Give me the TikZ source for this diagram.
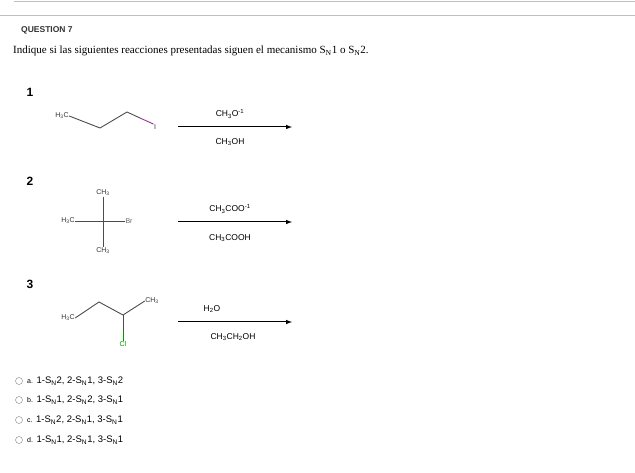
\documentclass[tikz,border=0pt]{standalone}
\usepackage{fontspec}
\setmainfont{Liberation Serif}
\setsansfont{Liberation Sans}
\begin{document}
\begin{tikzpicture}[x=1pt,y=-1pt,
  lbl/.style={font=\sffamily\fontsize{8.5}{9}\selectfont,inner sep=0.5pt},
  small/.style={font=\sffamily\fontsize{7}{8}\selectfont,inner sep=0.3pt,text=black!80},
  bond/.style={line width=0.9pt,black!70},
  rxn/.style={line width=1pt,-latex},
  num/.style={font=\sffamily\bfseries\fontsize{12}{13}\selectfont},
  opt/.style={font=\sffamily\fontsize{9.5}{11}\selectfont,anchor=west,inner sep=0pt},
  radio/.style={circle,draw=black!50,minimum size=7pt,inner sep=0pt}]
\useasboundingbox (0,0) rectangle (635,473);
\draw[black!25,line width=0.8pt] (14,1.5) -- (635,1.5);
\draw[black!25,line width=0.8pt] (0,15) -- (635,15);
\node[anchor=west,font=\sffamily\bfseries\fontsize{8.5}{9}\selectfont,text=black!80,inner sep=0pt] (q) at (21,30) {QUESTION 7};
\node[anchor=west,font=\fontsize{11}{12}\selectfont,inner sep=0pt] (stmt) at (13,51) {Indique si las siguientes reacciones presentadas siguen el mecanismo S\textsubscript{N}1 o S\textsubscript{N}2.};
\node[num] (n1) at (30,92) {1};
\node[num] (n2) at (30,181) {2};
\node[num] (n3) at (30,284) {3};
% molecule 1
\node[small] (m1a) at (62,116) {H\textsubscript{3}C};
\coordinate (m1b) at (100,128);
\coordinate (m1c) at (127,112);
\coordinate (m1d) at (140,118);
\node[small] (m1i) at (155,127) {I};
\draw[bond] (m1a.east) -- (m1b) -- (m1c) -- (m1d);
\draw[bond,violet!80] (m1d) -- (m1i.north west);
\node (a1s) at (178,127) {}; \node (a1e) at (292,127) {};
\draw[rxn] (a1s.center) -- (a1e.center);
\node[lbl] (r1a) at (230,114) {CH\textsubscript{3}O\textsuperscript{-1}};
\node[lbl] (r1b) at (230,142) {CH\textsubscript{3}OH};
% molecule 2
\coordinate (m2c) at (103,222);
\node[small] (m2t) at (103,193) {CH\textsubscript{3}};
\node[small] (m2b) at (103,251) {CH\textsubscript{3}};
\node[small] (m2l) at (68,221) {H\textsubscript{3}C};
\node[small,text=black!60] (m2r) at (129,221) {Br};
\draw[bond] (m2t.south) -- (m2b.north);
\draw[bond] (m2l.east) -- (m2r.west);
\node (a2s) at (178,222) {}; \node (a2e) at (292,222) {};
\draw[rxn] (a2s.center) -- (a2e.center);
\node[lbl] (r2a) at (230,209) {CH\textsubscript{3}COO\textsuperscript{-1}};
\node[lbl] (r2b) at (230,238) {CH\textsubscript{3}COOH};
% molecule 3
\node[small] (m3a) at (68,318) {H\textsubscript{3}C};
\coordinate (m3b) at (99,302);
\coordinate (m3c) at (123,315);
\node[small] (m3d) at (152,301) {CH\textsubscript{3}};
\coordinate (m3e) at (123,331);
\node[small,text=green!60!black] (m3cl) at (123,344) {Cl};
\draw[bond] (m3a.east) -- (m3b) -- (m3c) -- (m3d.west);
\draw[bond] (m3c) -- (m3e);
\draw[bond,green!60!black] (m3e) -- (m3cl.north);
\node (a3s) at (178,322) {}; \node (a3e) at (292,322) {};
\draw[rxn] (a3s.center) -- (a3e.center);
\node[lbl] (r3a) at (212,309) {H\textsubscript{2}O};
\node[lbl] (r3b) at (233,337) {CH\textsubscript{3}CH\textsubscript{2}OH};
% options
\node[radio] (c1) at (19,381) {};
\node[opt] (o1) at (27,381) {{\fontsize{7}{8}\selectfont a.} 1-S\textsubscript{N}2, 2-S\textsubscript{N}1, 3-S\textsubscript{N}2};
\node[radio] (c2) at (19,400) {};
\node[opt] (o2) at (27,400) {{\fontsize{7}{8}\selectfont b.} 1-S\textsubscript{N}1, 2-S\textsubscript{N}2, 3-S\textsubscript{N}1};
\node[radio] (c3) at (19,420) {};
\node[opt] (o3) at (27,420) {{\fontsize{7}{8}\selectfont c.} 1-S\textsubscript{N}2, 2-S\textsubscript{N}1, 3-S\textsubscript{N}1};
\node[radio] (c4) at (19,440) {};
\node[opt] (o4) at (27,440) {{\fontsize{7}{8}\selectfont d.} 1-S\textsubscript{N}1, 2-S\textsubscript{N}1, 3-S\textsubscript{N}1};
\end{tikzpicture}
\end{document}
